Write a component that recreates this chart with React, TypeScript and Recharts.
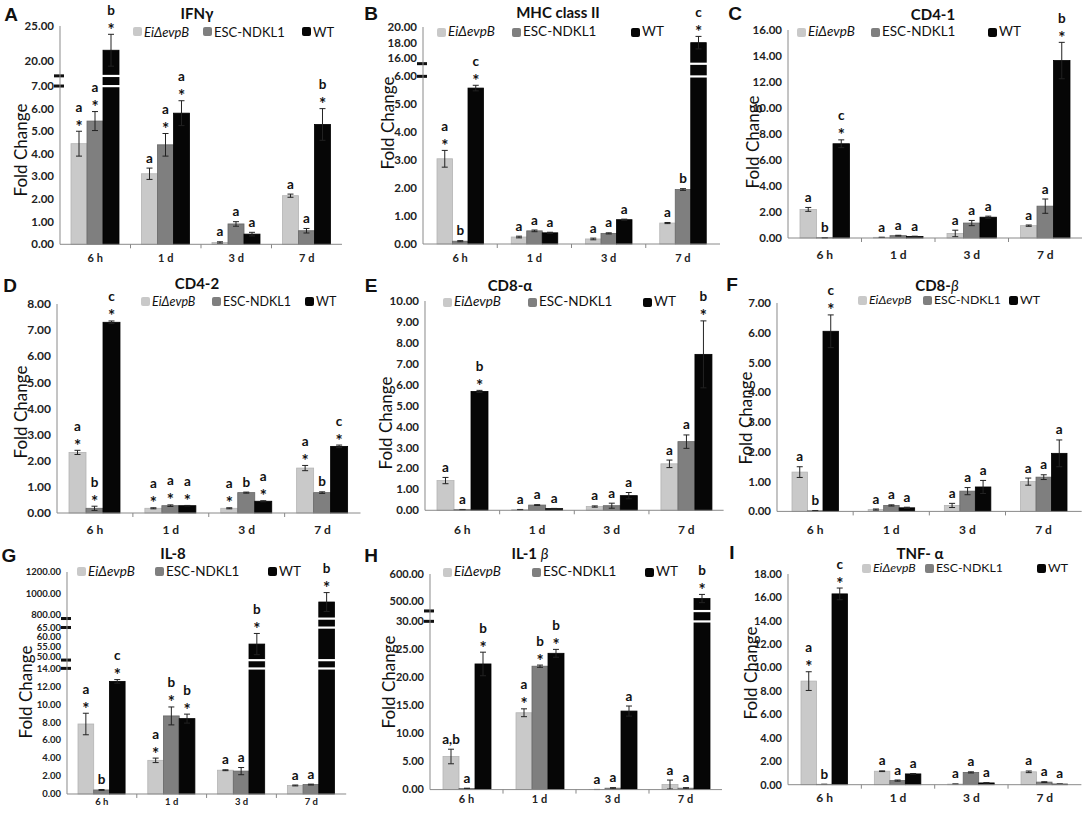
import React from "react";
import { Bar, BarChart, ErrorBar, ReferenceLine, XAxis, YAxis } from "recharts";

const TIMES = ["6 h", "1 d", "3 d", "7 d"];
const FILLS = ["#c9c9c9", "#7f7f7f", "#060606"];
const EDGES = ["#b4b4b4", "#666666", "#000000"];

// rows: EiΔevpB, ESC-NDKL1, WT ; columns: 6 h, 1 d, 3 d, 7 d
// "*" after a letter = asterisk shown under the letter
const ifnMean = [[4.45, 3.12, 0.08, 2.15], [5.45, 4.4, 0.9, 0.6], [21.5, 5.8, 0.45, 5.3]];
const ifnErr = [[0.55, 0.25, 0.03, 0.07], [0.42, 0.5, 0.1, 0.1], [2.3, 0.55, 0.08, 0.7]];
const ifnMarks = [["a*", "a", "a", "a"], ["a*", "a*", "a", "a"], ["b*", "a*", "a", "b*"]];
const ifnTicks = [0, 1, 2, 3, 4, 5, 6, 7, 20, 25];

const mhcMean = [[3.05, 0.25, 0.18, 0.75], [0.1, 0.47, 0.38, 1.95], [5.58, 0.4, 0.87, 18.0]];
const mhcErr = [[0.3, 0.03, 0.03, 0.02], [0.02, 0.03, 0.02, 0.03], [0.1, 0.02, 0.02, 0.8]];
const mhcMarks = [["a*", "a", "a", "a"], ["b", "a", "a", "b"], ["c*", "a", "a", "c*"]];
const mhcTicks = [0, 1, 2, 3, 4, 5, 6, 16, 18, 20];

const cd41Mean = [[2.2, 0.05, 0.35, 0.95], [0.02, 0.18, 1.15, 2.45], [7.25, 0.12, 1.6, 13.65]];
const cd41Err = [[0.15, 0.01, 0.25, 0.05], [0.01, 0.03, 0.2, 0.55], [0.3, 0.02, 0.08, 1.4]];
const cd41Marks = [["a", "a", "a", "a"], ["b", "a", "a", "a"], ["c*", "a", "a", "b*"]];
const cd41Ticks = [0, 2, 4, 6, 8, 10, 12, 14, 16];

const cd42Mean = [[2.32, 0.18, 0.18, 1.72], [0.18, 0.28, 0.78, 0.78], [7.3, 0.28, 0.45, 2.55]];
const cd42Err = [[0.08, 0.02, 0.02, 0.1], [0.08, 0.03, 0.02, 0.03], [0.05, 0.01, 0.02, 0.05]];
const cd42Marks = [["a*", "a*", "a*", "a*"], ["b*", "a*", "b", "b"], ["c*", "a*", "a*", "c*"]];
const cd42Ticks = [0, 1, 2, 3, 4, 5, 6, 7, 8];

const cd8aMean = [[1.42, 0.03, 0.18, 2.22], [0.03, 0.25, 0.22, 3.28], [5.68, 0.08, 0.7, 7.45]];
const cd8aErr = [[0.15, 0.01, 0.03, 0.18], [0.01, 0.02, 0.12, 0.32], [0.05, 0.01, 0.15, 1.6]];
const cd8aMarks = [["a", "a", "a", "a"], ["a", "a", "a", "a"], ["b*", "a", "a", "b*"]];
const cd8aTicks = [0, 1, 2, 3, 4, 5, 6, 7, 8, 9, 10];

const cd8bMean = [[1.32, 0.06, 0.2, 1.0], [0.02, 0.2, 0.68, 1.15], [6.05, 0.12, 0.82, 1.95]];
const cd8bErr = [[0.18, 0.02, 0.07, 0.12], [0.01, 0.02, 0.12, 0.08], [0.55, 0.02, 0.22, 0.45]];
const cd8bMarks = [["a", "a", "a", "a"], ["b", "a", "a", "a"], ["c*", "a", "a", "a"]];
const cd8bTicks = [0, 1, 2, 3, 4, 5, 6, 7];

const il8Mean = [[7.8, 3.75, 2.65, 0.95], [0.45, 8.7, 2.55, 1.05], [12.55, 8.4, 56.4, 920]];
const il8Err = [[1.2, 0.25, 0.05, 0.05], [0.05, 1.0, 0.4, 0.05], [0.2, 0.5, 5.5, 88]];
const il8Marks = [["a*", "a*", "a", "a"], ["b", "b*", "a", "a"], ["c*", "b*", "b*", "b*"]];
const il8Ticks = [0, 2, 4, 6, 8, 10, 12, 14, 50, 55, 60, 65, 800, 1000, 1200];

const il1Mean = [[5.9, 13.7, 0.02, 0.9], [0.2, 22.0, 0.25, 0.25], [22.4, 24.3, 14.0, 511]];
const il1Err = [[1.3, 0.7, 0.01, 0.8], [0.05, 0.2, 0.1, 0.1], [2.1, 0.7, 0.9, 15]];
const il1Marks = [["a,b", "a*", "a", "a"], ["a", "b*", "a", "a"], ["b*", "b*", "a", "b*"]];
const il1Ticks = [0, 5, 10, 15, 20, 25, 30, 500, 600];

const tnfMean = [[8.85, 1.15, 0.05, 1.1], [0.03, 0.35, 1.05, 0.22], [16.3, 0.92, 0.15, 0.05]];
const tnfErr = [[0.8, 0.03, 0.01, 0.07], [0.01, 0.05, 0.05, 0.03], [0.5, 0.03, 0.02, 0.01]];
const tnfMarks = [["a*", "a", "a", "a"], ["b", "a", "a", "a"], ["c*", "a", "a", "a"]];
const tnfTicks = [0, 2, 4, 6, 8, 10, 12, 14, 16, 18];

const beta = <span style={{ fontStyle: "italic", fontWeight: 400 }}>β</span>;

// axis segments for broken axes: [value from, value to, axis from, axis to]
const panels = [
  { letter: "A", title: <>IFNγ</>, mean: ifnMean, err: ifnErr, marks: ifnMarks, ticks: ifnTicks,
    segs: [[0, 7, 0, 7], [17.8, 25, 7.45, 9.655]],
    x0: 60, x1: 342, yT: 26, yB: 244.3, bw: 16, tickFs: 11.5, xFs: 11, xLab: 14,
    tx: 197, ty: 13, lx: 11, ly: 15, leg: [133, 203, 302], legY: 31.7, legFs: 13, fx: 20, fy: 150 },
  { letter: "B", title: <>MHC class II</>, mean: mhcMean, err: mhcErr, marks: mhcMarks, ticks: mhcTicks,
    segs: [[0, 6, 0, 6], [15.32, 20, 6.454, 7.766]],
    x0: 423, x1: 720, yT: 27.3, yB: 244.3, bw: 15.5, tickFs: 11.5, xFs: 11, xLab: 14,
    tx: 558, ty: 12, lx: 371, ly: 14, leg: [437, 512, 631], legY: 32, legFs: 13.5, fx: 387, fy: 123 },
  { letter: "C", title: <>CD4-1</>, mean: cd41Mean, err: cd41Err, marks: cd41Marks, ticks: cd41Ticks,
    segs: [[0, 16, 0, 16]],
    x0: 788, x1: 1082, yT: 30, yB: 238, bw: 16.5, tickFs: 11.5, xFs: 12, xLab: 17,
    tx: 933, ty: 14, lx: 735, ly: 14, leg: [797, 871, 988], legY: 32, legFs: 13.5, fx: 752, fy: 142 },
  { letter: "D", title: <>CD4-2</>, mean: cd42Mean, err: cd42Err, marks: cd42Marks, ticks: cd42Ticks,
    segs: [[0, 8, 0, 8]],
    x0: 56.5, x1: 360, yT: 303.7, yB: 512.7, bw: 17, tickFs: 12, xFs: 12, xLab: 16.6,
    tx: 197, ty: 283, lx: 10, ly: 286, leg: [141, 212, 305], legY: 301.7, legFs: 12.5, fx: 20, fy: 412 },
  { letter: "E", title: <>CD8-α</>, mean: cd8aMean, err: cd8aErr, marks: cd8aMarks, ticks: cd8aTicks,
    segs: [[0, 10, 0, 10]],
    x0: 425.4, x1: 724, yT: 300.7, yB: 510, bw: 17, tickFs: 11.5, xFs: 12, xLab: 20,
    tx: 510, ty: 285, lx: 371, ly: 286, leg: [443, 528, 643], legY: 302, legFs: 13.5, fx: 385, fy: 423 },
  { letter: "F", title: <>CD8-{beta}</>, mean: cd8bMean, err: cd8bErr, marks: cd8bMarks, ticks: cd8bTicks,
    segs: [[0, 7, 0, 7]],
    x0: 777.3, x1: 1082, yT: 303.3, yB: 511.7, bw: 15.5, tickFs: 11.5, xFs: 12, xLab: 18.3,
    tx: 937, ty: 285, lx: 732, ly: 285, leg: [858, 923, 1009], legY: 300, legFs: 12.3, fx: 745, fy: 418 },
  { letter: "G", title: <>IL-8</>, mean: il8Mean, err: il8Err, marks: il8Marks, ticks: il8Ticks,
    segs: [[0, 14, 0, 14], [48.1, 65, 14.926, 18.556], [766, 1200, 19.556, 24.74]],
    x0: 66.8, x1: 346, yT: 571.7, yB: 793.7, bw: 15.7, tickFs: 9.5, xFs: 9.5, xLab: 7.5,
    tx: 173, ty: 553, lx: 9, ly: 556, leg: [77, 155, 268], legY: 571.7, legFs: 13.5, fx: 25, fy: 692 },
  { letter: "H", title: <>IL-1 {beta}</>, mean: il1Mean, err: il1Err, marks: il1Marks, ticks: il1Ticks,
    segs: [[0, 30, 0, 30], [466, 600, 31.85, 38.44]],
    x0: 429.5, x1: 721.5, yT: 573.7, yB: 789.3, bw: 16, tickFs: 11, xFs: 11, xLab: 9.5,
    tx: 530, ty: 553, lx: 371, ly: 556, leg: [443, 532, 645], legY: 572, legFs: 13.5, fx: 388, fy: 682 },
  { letter: "I", title: <>TNF- α</>, mean: tnfMean, err: tnfErr, marks: tnfMarks, ticks: tnfTicks,
    segs: [[0, 18, 0, 18]],
    x0: 788.3, x1: 1081.7, yT: 574.3, yB: 785, bw: 15.5, tickFs: 11, xFs: 12, xLab: 13.3,
    tx: 920, ty: 553, lx: 732, ly: 553, leg: [862, 925, 1037], legY: 568, legFs: 12.3, fx: 750, fy: 673 },
];

type Spec = (typeof panels)[number];

function makeScale(segs: number[][]) {
  const fwd = (v: number) => {
    for (const [lo, hi, a, b] of segs) {
      if (v <= hi) return v < lo ? a : a + ((v - lo) * (b - a)) / (hi - lo);
    }
    const [lo, hi, a, b] = segs[segs.length - 1];
    return a + ((v - lo) * (b - a)) / (hi - lo);
  };
  const inv = (d: number) => {
    for (const [lo, hi, a, b] of segs) {
      if (d <= b + 1e-6) return lo + ((d - a) * (hi - lo)) / (b - a);
    }
    return d;
  };
  return { fwd, inv };
}

const YW = 50;
const XH = 26;
const TOP_ROOM = 42;

function Panel({ p }: { p: Spec }) {
  const sc = makeScale(p.segs);
  const dMax = p.segs[p.segs.length - 1][3];
  const breaks = p.segs.slice(1).map((s, i) => [p.segs[i][3], s[2]]);
  const rows = TIMES.map((t, i) => {
    const r: any = { t };
    for (let k = 0; k < 3; k++) {
      const m = p.mean[k][i];
      const e = p.err[k][i];
      const d = sc.fwd(m);
      r[`v${k}`] = d;
      r[`e${k}`] = [d - sc.fwd(m - e), sc.fwd(m + e) - d];
    }
    return r;
  });
  const left = p.x0 - YW - 2;
  const top = p.yT - TOP_ROOM;
  const width = p.x1 + 3 - left;
  const height = p.yB + XH + 4 - top;
  const band = (p.x1 - p.x0) / 4;

  const shape = (k: number) => (props: any) => {
    const { x, y, width: w, height: h, index } = props;
    if (x == null || index == null) return <g />;
    const m = p.mean[k][index];
    const e = p.err[k][index];
    const dv = sc.fwd(m);
    const dt = sc.fwd(m + e);
    const bg = props.background;
    const ppd = bg && bg.height > 0 ? bg.height / dMax : (p.yB - p.yT) / dMax;
    const base = y + h;
    const errTop = base - dt * ppd;
    const mk = p.marks[k][index];
    const star = mk.endsWith("*");
    const letter = star ? mk.slice(0, -1) : mk;
    const cx = x + w / 2;
    return (
      <g>
        <rect x={x} y={y} width={w} height={Math.max(h, 0)} fill={FILLS[k]} stroke={EDGES[k]} strokeWidth={0.8} />
        {breaks
          .filter(([, b2]) => dv > b2)
          .flat()
          .map((b, i) => (
            <rect key={i} x={x - 1} y={base - b * ppd - 1} width={w + 2} height={2.2} fill="#fff" />
          ))}
        {star && (
          <text x={cx} y={errTop + 1.5} textAnchor="middle" fontSize={17} fontWeight={700} fill="#111">
            *
          </text>
        )}
        <text x={cx} y={star ? errTop - 19.5 : errTop - 5.5} textAnchor="middle" fontSize={13.5} fontWeight={700} fill="#111">
          {letter}
        </text>
      </g>
    );
  };

  const breakMark = (lp: any) => {
    const xa = Math.min(lp.x1, lp.x2);
    return <rect x={xa - 6} y={lp.y1 - 1.5} width={10} height={3} fill="#111" />;
  };

  const yTick = (tp: any) => (
    <text x={tp.x} y={tp.y} dy={p.tickFs * 0.35} textAnchor="end" fontSize={p.tickFs} fontWeight={700} fill="#222">
      {sc.inv(tp.payload.value).toFixed(2)}
    </text>
  );

  const xTick = (tp: any) => (
    <g>
      <text x={tp.x} y={tp.y + p.xLab + p.xFs * 0.35} textAnchor="middle" fontSize={p.xFs} fontWeight={700} fill="#222">
        {tp.payload.value}
      </text>
      {tp.index < 3 && <line x1={tp.x + band / 2} x2={tp.x + band / 2} y1={tp.y} y2={tp.y + 4} stroke="#888" />}
    </g>
  );

  return (
    <>
      <div style={{ position: "absolute", left, top, width, height }}>
        <BarChart
          width={width}
          height={height}
          data={rows}
          margin={{ top: TOP_ROOM, right: 3, bottom: 4, left: 2 }}
          barGap={0}
          barSize={p.bw}
        >
          <XAxis
            dataKey="t"
            height={XH}
            interval={0}
            tickLine={false}
            tickSize={0}
            tickMargin={0}
            axisLine={{ stroke: "#8a8a8a" }}
            tick={xTick}
          />
          <YAxis
            type="number"
            width={YW}
            domain={[0, dMax]}
            ticks={p.ticks.map(sc.fwd)}
            interval={0}
            tickLine={false}
            tickSize={0}
            tickMargin={6}
            axisLine={{ stroke: "#8a8a8a" }}
            tick={yTick}
          />
          {[0, 1, 2].map((k) => (
            <Bar key={k} dataKey={`v${k}`} fill={FILLS[k]} isAnimationActive={false} shape={shape(k)}>
              <ErrorBar dataKey={`e${k}`} width={3} stroke="#222" strokeWidth={1} direction="y" />
            </Bar>
          ))}
          {breaks.flat().map((b) => (
            <ReferenceLine key={b} y={b} stroke="transparent" shape={breakMark} />
          ))}
        </BarChart>
      </div>
      <div style={{ position: "absolute", left: p.lx, top: p.ly, transform: "translate(-50%,-50%)", fontFamily: "'Liberation Sans', Arial, sans-serif", fontWeight: 700, fontSize: 19 }}>
        {p.letter}
      </div>
      <div style={{ position: "absolute", left: p.tx, top: p.ty, transform: "translate(-50%,-50%)", fontWeight: 700, fontSize: 15, whiteSpace: "nowrap" }}>
        {p.title}
      </div>
      <div style={{ position: "absolute", left: p.fx, top: p.fy, transform: "translate(-50%,-50%) rotate(-90deg)", fontSize: 17, whiteSpace: "nowrap" }}>
        Fold Change
      </div>
      {p.leg.map((lx, k) => (
        <React.Fragment key={k}>
          <div style={{ position: "absolute", left: lx, top: p.legY - 4.5, width: 9, height: 9, background: FILLS[k], borderRadius: 2 }} />
          <div style={{ position: "absolute", left: lx + 11, top: p.legY, transform: "translateY(-50%)", fontSize: p.legFs, lineHeight: 1, whiteSpace: "nowrap" }}>
            {k === 0 ? <i>EiΔevpB</i> : k === 1 ? "ESC-NDKL1" : "WT"}
          </div>
        </React.Fragment>
      ))}
    </>
  );
}

export default function App() {
  return (
    <div
      style={{
        position: "absolute",
        left: 0,
        top: 0,
        width: 1084,
        height: 814,
        overflow: "hidden",
        background: "#fff",
        color: "#111",
        fontFamily: "Lato, 'Open Sans', sans-serif",
      }}
    >
      {panels.map((p) => (
        <Panel key={p.letter} p={p} />
      ))}
    </div>
  );
}
